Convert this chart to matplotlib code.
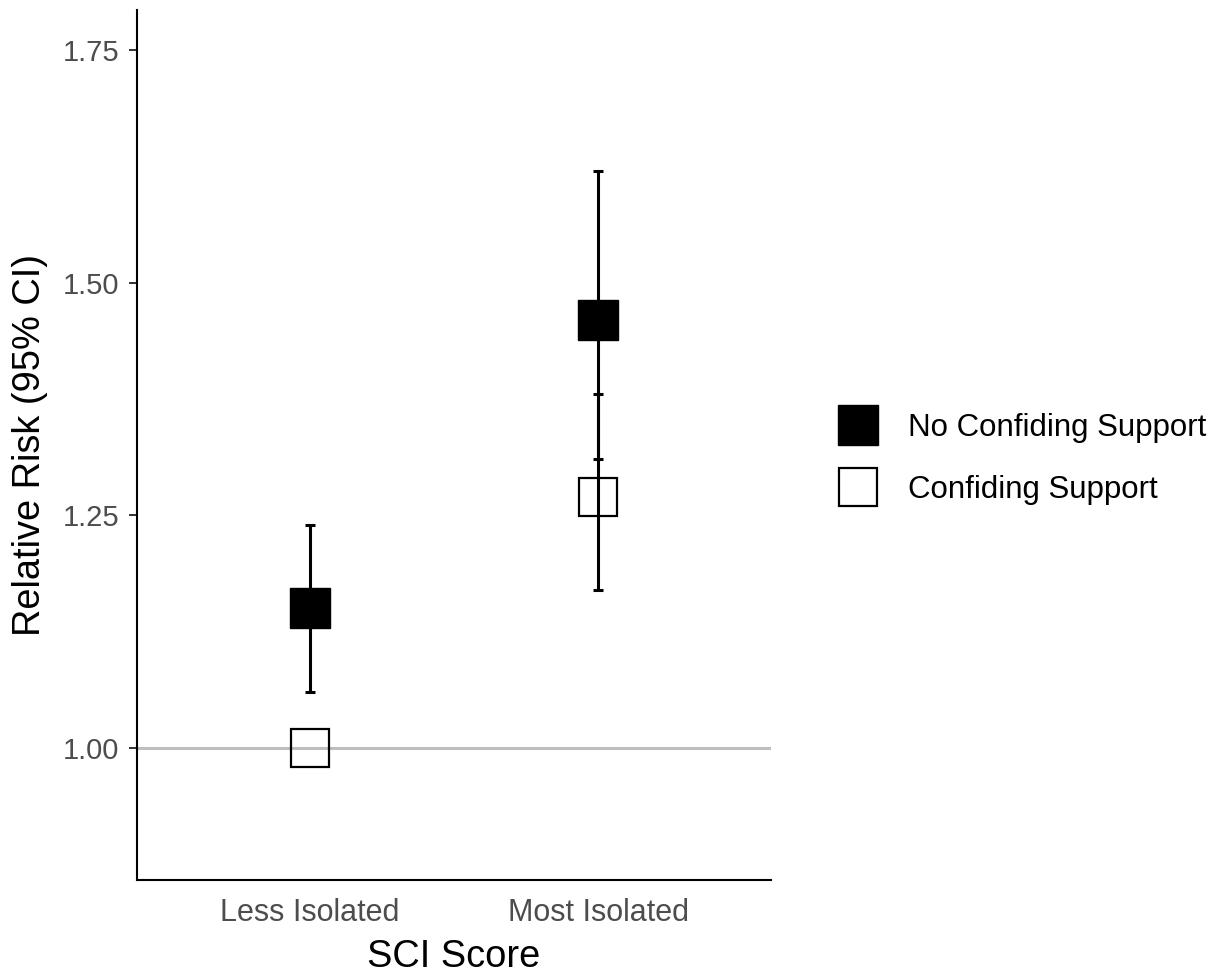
import matplotlib.pyplot as plt
from matplotlib.lines import Line2D

plt.rcParams['font.family'] = ['Liberation Sans', 'DejaVu Sans']

# relative risk by SCI score, split by confiding support
groups = ['Less Isolated', 'Most Isolated']
no_support_rr = [1.15, 1.46]
no_support_lo = [1.06, 1.31]
no_support_hi = [1.24, 1.62]
support_rr = [1.00, 1.27]
support_lo = [None, 1.17]
support_hi = [None, 1.38]
y_ticks = [1.00, 1.25, 1.50, 1.75]

W, H = 1227, 973
fig = plt.figure(figsize=(W / 100, H / 100), dpi=100)
ax = fig.add_axes([137 / W, 1 - 880 / H, (771 - 137) / W, (880 - 10) / H])

xs = list(range(1, len(groups) + 1))

ax.axhline(1.0, color='#BEBEBE', lw=2.2, zorder=1)

# confidence intervals
for i, x in enumerate(xs):
    for lo, hi in [(no_support_lo[i], no_support_hi[i]), (support_lo[i], support_hi[i])]:
        if lo is None:
            continue
        ax.errorbar([x], [(lo + hi) / 2], yerr=[[(hi - lo) / 2], [(hi - lo) / 2]],
                    fmt='none', ecolor='black', elinewidth=2.2, capsize=3.3,
                    capthick=2.2, zorder=2)

ms = 28.5
ax.plot(xs, no_support_rr, 's', color='black', ms=ms, zorder=3, ls='none')
ax.plot(xs, support_rr, 's', mfc='none', mec='black', mew=1.6, ms=ms - 1, zorder=3, ls='none')

ax.set_xlim(0.4, 2.6)
ax.set_ylim(0.858, 1.793)
ax.set_xticks(xs)
ax.set_xticklabels(groups)
ax.set_yticks(y_ticks)
ax.set_yticklabels(['%.2f' % t for t in y_ticks])

ax.tick_params(axis='y', length=6, width=1.4, color='#333333', labelsize=21,
               labelcolor='#4D4D4D', pad=7)
ax.tick_params(axis='x', length=0, labelsize=22, labelcolor='#4D4D4D', pad=13)
for s in ['top', 'right']:
    ax.spines[s].set_visible(False)
for s in ['left', 'bottom']:
    ax.spines[s].set_linewidth(1.5)
    ax.spines[s].set_color('black')

ax.set_xlabel('SCI Score', fontsize=27.4, labelpad=8)
ax.set_ylabel('Relative Risk (95% CI)', fontsize=27.4, labelpad=10)

handles = [
    Line2D([], [], marker='s', ls='none', color='black', ms=ms),
    Line2D([], [], marker='s', ls='none', mfc='white', mec='black', mew=1.6, ms=ms - 1),
]
fig.legend(handles, ['No Confiding Support', 'Confiding Support'],
           loc='center left', bbox_to_anchor=(836 / W, 1 - 459 / H),
           frameon=False, fontsize=22.5, handlelength=1.42, handletextpad=0.9,
           labelspacing=1.0, borderpad=0, borderaxespad=0)

fig.savefig('out.png', dpi=100)
